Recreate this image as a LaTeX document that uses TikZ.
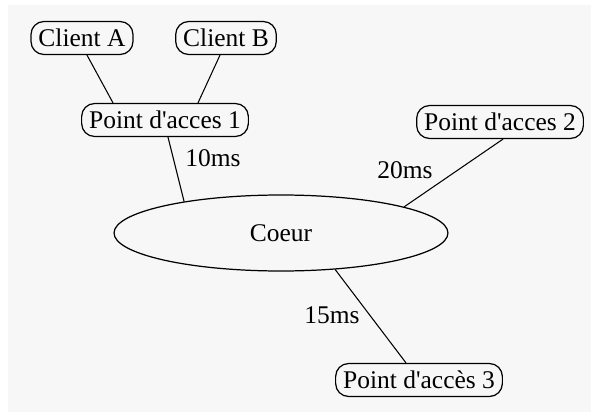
\documentclass[tikz,border=0pt]{standalone}
\usepackage{fontspec}
\setmainfont{Liberation Serif}
\usetikzlibrary{shapes.geometric}
\definecolor{fond}{RGB}{247,247,247}
\tikzset{
  boite/.style={draw, rounded corners=0.26cm, line width=0.7pt, fill=fond,
    inner xsep=0.15cm, minimum height=0.66cm, font=\fontsize{14.5}{16}\selectfont},
  lien/.style={line width=0.6pt},
  delai/.style={font=\fontsize{14.5}{16}\selectfont}
}
\begin{document}
\begin{tikzpicture}[x=0.02cm, y=-0.02cm]
	    \fill[white] (0,0) rectangle (591,412);
	    \fill[fond] (8,5) rectangle (591,412);
	    \useasboundingbox (0,0) rectangle (591,412);
	    % les noeuds
	    \node[boite] (ca) at (82,38) {Client A};
	    \node[boite] (cb) at (226,38) {Client B};
	    \node[boite] (pa1) at (165,120) {Point d\textquotesingle acces 1};
	    \node[boite] (pa2) at (500,122) {Point d\textquotesingle acces 2};
	    \node[boite] (pa3) at (419,380) {Point d\textquotesingle accès 3};
	    \node[ellipse, draw, line width=0.7pt, minimum width=6.68cm, minimum height=1.52cm,
	      font=\fontsize{14.5}{16}\selectfont] (coeur) at (281,233) {Coeur};
	    % les liens
	    \draw[lien] ([xshift=0.1cm]ca.south) -- ([xshift=-1.04cm]pa1.north);
	    \draw[lien] ([xshift=-0.12cm]cb.south) -- ([xshift=0.66cm]pa1.north);
	    \draw[lien] ([xshift=0.06cm]pa1.south) -- (coeur.162);
	    \draw[lien] ([xshift=0.06cm]pa2.south) -- (coeur.12);
	    \draw[lien] (coeur.326) -- ([xshift=-0.26cm]pa3.north);
	    % les delais
	    \node[delai] (d10) at (213,158) {10ms};
	    \node[delai] (d20) at (405,170) {20ms};
	    \node[delai] (d15) at (332,315) {15ms};
	\end{tikzpicture}
\end{document}
